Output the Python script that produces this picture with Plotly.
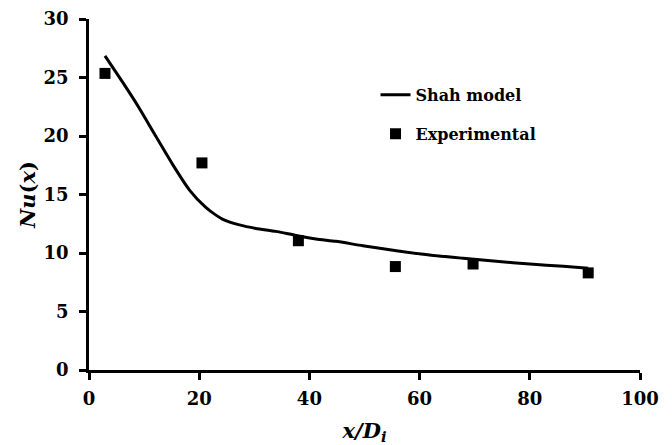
import plotly.graph_objects as go

# Shah model curve
model_x = [2.9, 6.1, 9.1, 12.1, 15.2, 18.2, 21.2, 24.2, 27.3, 30.3, 33.9, 37.6, 41.2, 44.8, 49.7, 55.8, 61.8, 67.9, 73.9, 80.0, 86.1, 90.6]
model_y = [26.85, 24.6, 22.4, 20.0, 17.55, 15.4, 13.9, 12.9, 12.4, 12.1, 11.85, 11.5, 11.2, 11.0, 10.62, 10.2, 9.83, 9.55, 9.29, 9.06, 8.86, 8.69]

# Experimental points
exp_x = [2.9, 20.5, 38.0, 55.6, 69.7, 90.6]
exp_y = [25.35, 17.7, 11.05, 8.84, 9.06, 8.3]

x_ticks = [0, 20, 40, 60, 80, 100]
y_ticks = [0, 5, 10, 15, 20, 25, 30]

FONT = "DejaVu Serif"

fig = go.Figure()
fig.add_trace(go.Scatter(
    x=model_x, y=model_y, mode="lines", name="Shah model",
    line=dict(color="black", width=3, shape="spline", smoothing=0.6),
    legendgroup="a",
))
fig.add_trace(go.Scatter(
    x=exp_x, y=exp_y, mode="markers", name="Experimental",
    marker=dict(symbol="square", size=11, color="black"),
    legendgroup="b",
))

axis_common = dict(
    showgrid=False, zeroline=False, showline=True, linecolor="black", linewidth=2.5,
    ticks="outside", ticklen=7, tickwidth=2.5, tickcolor="black", automargin=False,
    ticklabeloverflow="allow",
    tickfont=dict(family=FONT, size=18, color="black", weight="bold"),
)

# page body has an 8px margin, so the figure is 8px smaller than the window
fig.update_layout(
    width=664, height=437,
    margin=dict(l=81, r=32, t=11, b=75),
    paper_bgcolor="white", plot_bgcolor="white",
    showlegend=True,
    legend=dict(
        x=0.52, y=0.832, xanchor="left", yanchor="top",
        bgcolor="rgba(0,0,0,0)", tracegroupgap=15,
        font=dict(family=FONT, size=16, color="black", weight="bold"),
    ),
    xaxis=dict(
        range=[0, 100], tickvals=x_ticks, ticktext=[str(v) for v in x_ticks],
        ticklabelstandoff=4,
        title=dict(text="<i>x/D<sub>i</sub></i>", standoff=16,
                   font=dict(family=FONT, size=21, color="black", weight="bold")),
        **axis_common,
    ),
    yaxis=dict(
        range=[0, 30], tickvals=y_ticks, ticktext=[str(v) for v in y_ticks],
        ticklabelstandoff=7,
        title=dict(text="<i>Nu</i>(<i>x</i>)", standoff=3,
                   font=dict(family=FONT, size=21, color="black", weight="bold")),
        **axis_common,
    ),
)

fig.write_html("out.html")
